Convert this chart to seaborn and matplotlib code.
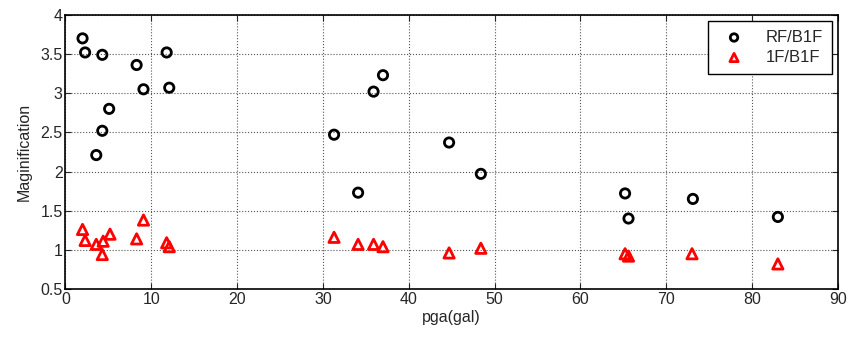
"""
Magnification vs pga scatter
"""

import matplotlib
matplotlib.use("Agg")
import matplotlib.pyplot as plt
import seaborn as sns
import pandas as pd

# RF/B1F series
pga_rf = [2.0, 2.3, 4.3, 8.3, 11.8, 9.1, 12.1, 5.1, 4.3, 3.6,
          31.3, 34.1, 35.9, 37.0, 44.7, 48.4, 65.2, 65.6, 73.1, 83.0]
mag_rf = [3.70, 3.52, 3.49, 3.36, 3.52, 3.05, 3.07, 2.80, 2.52, 2.21,
          2.47, 1.73, 3.02, 3.23, 2.37, 1.97, 1.72, 1.40, 1.65, 1.42]

# 1F/B1F series
pga_1f = [2.0, 2.3, 3.6, 4.4, 4.3, 5.2, 8.3, 9.1, 11.8, 12.1,
          31.3, 34.1, 35.9, 37.0, 44.7, 48.4, 65.2, 65.6, 73.0, 83.0]
mag_1f = [1.26, 1.12, 1.07, 1.11, 0.94, 1.20, 1.14, 1.38, 1.09, 1.04,
          1.16, 1.07, 1.07, 1.04, 0.96, 1.02, 0.95, 0.92, 0.95, 0.82]

df_rf = pd.DataFrame({"pga": pga_rf, "mag": mag_rf})
df_1f = pd.DataFrame({"pga": pga_1f, "mag": mag_1f})

sns.set_style("ticks")
plt.rcParams["font.family"] = ["Liberation Sans", "DejaVu Sans"]

fig, ax = plt.subplots(figsize=(8.49, 3.38), dpi=100)
fig.subplots_adjust(left=0.077, right=0.987, top=0.956, bottom=0.145)

sns.scatterplot(data=df_rf, x="pga", y="mag", marker="o", s=45,
                facecolors="none", edgecolor="black", linewidth=2,
                label="RF/B1F", ax=ax, zorder=3)
sns.scatterplot(data=df_1f, x="pga", y="mag", marker="^", s=55,
                facecolors="none", edgecolor="red", linewidth=2,
                label="1F/B1F", ax=ax, zorder=3)

ax.set_xlim(0, 90)
ax.set_ylim(0.5, 4)
ax.set_xticks(range(0, 91, 10))
ax.set_yticks([0.5, 1, 1.5, 2, 2.5, 3, 3.5, 4])
ax.set_yticklabels(["0.5", "1", "1.5", "2", "2.5", "3", "3.5", "4"])
ax.grid(True, color="#555555", linestyle=":", linewidth=0.8)
ax.tick_params(direction="in", top=True, right=True, labelsize=11.5,
               length=4, pad=2)
for sp in ax.spines.values():
    sp.set_visible(True)
    sp.set_linewidth(1.2)
    sp.set_color("black")

ax.set_xlabel("pga(gal)", fontsize=11.5, labelpad=2)
ax.set_ylabel("Maginification", fontsize=11.5, labelpad=6)

leg = ax.legend(loc="upper right", fontsize=12, frameon=True,
                fancybox=False, edgecolor="black", framealpha=1,
                borderaxespad=0.35, handletextpad=0.9, borderpad=0.55,
                labelspacing=0.3, markerscale=0.8)
leg.get_frame().set_linewidth(1.0)

plt.savefig("out.png", dpi=100)
